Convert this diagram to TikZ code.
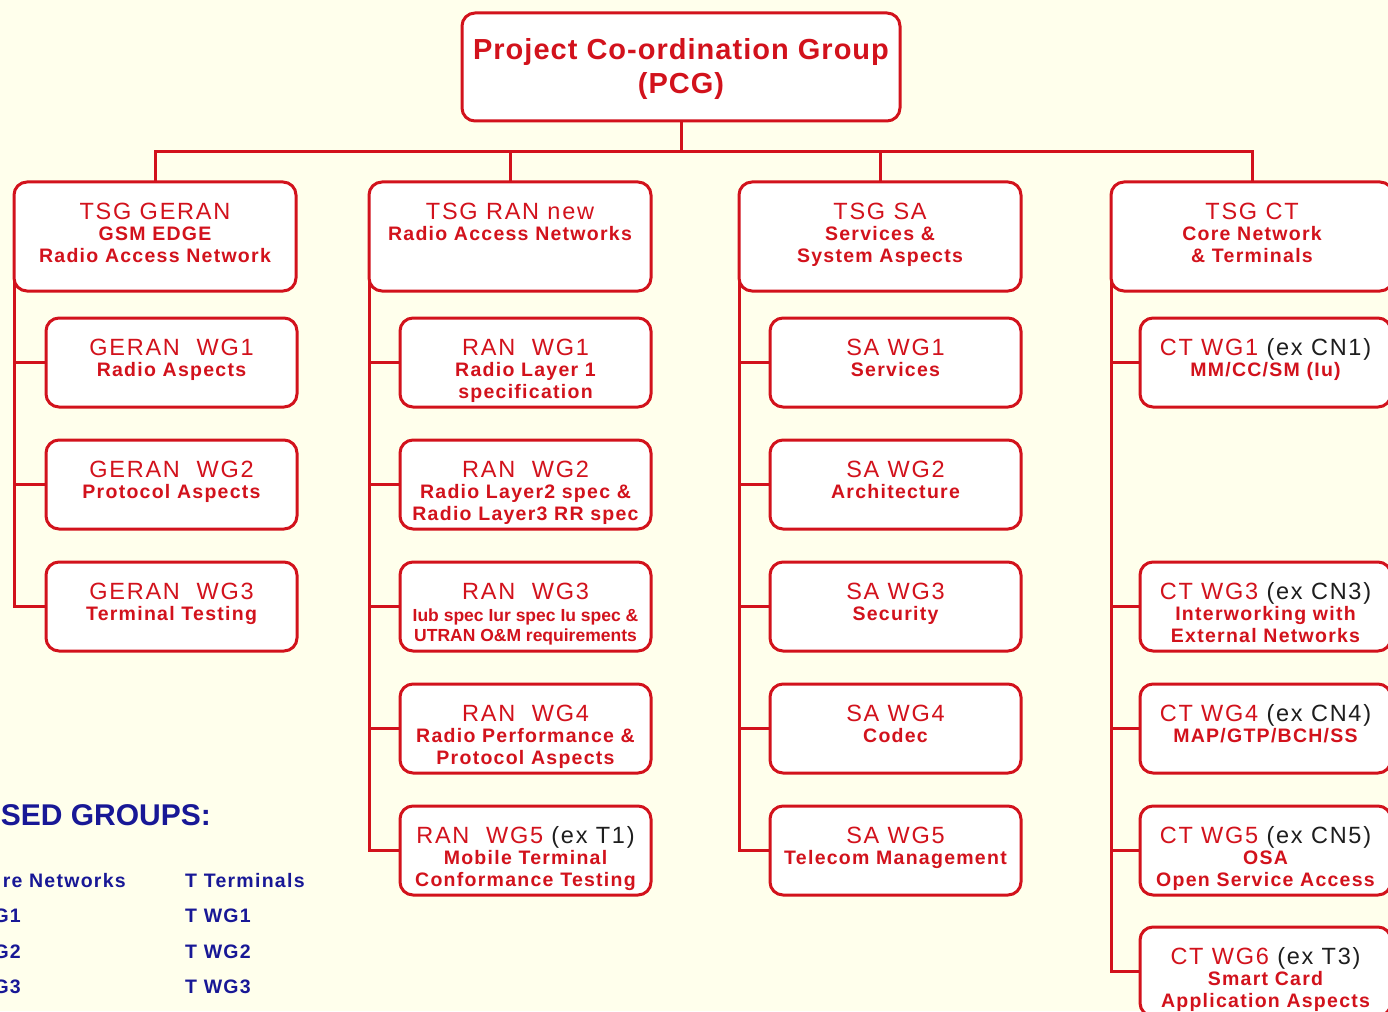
\documentclass[tikz,border=0pt]{standalone}
\usepackage{fontspec}
\setmainfont{Liberation Sans}
\newfontfamily\ttlfam[LetterSpace=7.5]{Liberation Sans}
\newfontfamily\subfam[LetterSpace=6.5]{Liberation Sans}
\newfontfamily\pcgfam[LetterSpace=3.5]{Liberation Sans}
\usetikzlibrary{backgrounds}

\definecolor{boxred}{RGB}{210,18,28}
\definecolor{bgyellow}{RGB}{255,255,236}
\definecolor{legblue}{RGB}{24,24,150}
\definecolor{exgray}{RGB}{30,30,30}

% text helpers
\newcommand\ttl[1]{{\ttlfam\fontsize{23.5}{26}\selectfont #1}}
\newcommand\sbt[1]{{\subfam\bfseries\fontsize{19.5}{22}\selectfont #1}}
\newcommand\exn[1]{{\color{exgray}\ttlfam\fontsize{23.5}{26}\selectfont #1}}
\newcommand\smallsub[1]{{\bfseries\fontsize{17.5}{20}\selectfont #1}}
% box content: height, width, lines (top aligned, first baseline 37pt below top)
\newcommand\boxlines[3]{\parbox[c][#1][t]{#2}{\centering\baselineskip=21.5pt\lineskiplimit=-100pt\lineskip=0pt\rule{0pt}{37pt}#3}}
\newcommand\tsgtext[1]{\boxlines{109pt}{282pt}{#1}}
\newcommand\wgtext[1]{\boxlines{89pt}{251pt}{#1}}

\begin{document}
\begin{tikzpicture}[x=1pt,y=-1pt,
  box/.style={draw=boxred, line width=3pt, rounded corners=13pt, fill=white,
              inner sep=0pt, outer sep=0pt, text=boxred},
  link/.style={draw=boxred, line width=3pt},
  legend/.style={inner sep=0pt, text=legblue,
                 font=\subfam\bfseries\fontsize{19.5}{22}\selectfont}]
\useasboundingbox (0,0) rectangle (1388,1011);

% top coordination group
\node[box, anchor=north west] (pcg) at (462,13)
  {\parbox[c][108pt][t]{438pt}{\centering\baselineskip=37pt\lineskiplimit=-100pt
   \pcgfam\bfseries\fontsize{29}{34}\selectfont
   \rule{0pt}{47pt}Project Co-ordination Group\\(PCG)}};

% technical specification groups
\node[box, anchor=north west] (geran) at (14,182)
  {\tsgtext{\ttl{TSG GERAN}\\\sbt{GSM EDGE}\\\sbt{Radio Access Network}}};
\node[box, anchor=north west] (ran) at (369,182)
  {\tsgtext{\ttl{TSG RAN new}\\\sbt{Radio Access Networks}}};
\node[box, anchor=north west] (sa) at (739,182)
  {\tsgtext{\ttl{TSG SA}\\\sbt{Services \&}\\\sbt{System Aspects}}};
\node[box, anchor=north west] (ct) at (1111,182)
  {\tsgtext{\ttl{TSG CT}\\\sbt{Core Network}\\\sbt{\& Terminals}}};

% GERAN working groups
\node[box, anchor=north west] (g1) at (46,318)
  {\wgtext{\ttl{GERAN\ \ WG1}\\\sbt{Radio Aspects}}};
\node[box, anchor=north west] (g2) at (46,440)
  {\wgtext{\ttl{GERAN\ \ WG2}\\\sbt{Protocol Aspects}}};
\node[box, anchor=north west] (g3) at (46,562)
  {\wgtext{\ttl{GERAN\ \ WG3}\\\sbt{Terminal Testing}}};

% RAN working groups
\node[box, anchor=north west] (r1) at (400,318)
  {\wgtext{\ttl{RAN\ \ WG1}\\\sbt{Radio Layer 1}\\\sbt{specification}}};
\node[box, anchor=north west] (r2) at (400,440)
  {\wgtext{\ttl{RAN\ \ WG2}\\\sbt{Radio Layer2 spec \&}\\\sbt{Radio Layer3 RR spec}}};
\node[box, anchor=north west] (r3) at (400,562)
  {\wgtext{\baselineskip=20pt\ttl{RAN\ \ WG3}\\[2pt]\smallsub{Iub spec Iur spec Iu spec \&}\\\smallsub{UTRAN O\&M requirements}}};
\node[box, anchor=north west] (r4) at (400,684)
  {\wgtext{\ttl{RAN\ \ WG4}\\\sbt{Radio Performance \&}\\\sbt{Protocol Aspects}}};
\node[box, anchor=north west] (r5) at (400,806)
  {\wgtext{\ttl{RAN\ \ WG5 }\exn{(ex T1)}\\\sbt{Mobile Terminal}\\\sbt{Conformance Testing}}};

% SA working groups
\node[box, anchor=north west] (s1) at (770,318)
  {\wgtext{\ttl{SA WG1}\\\sbt{Services}}};
\node[box, anchor=north west] (s2) at (770,440)
  {\wgtext{\ttl{SA WG2}\\\sbt{Architecture}}};
\node[box, anchor=north west] (s3) at (770,562)
  {\wgtext{\ttl{SA WG3}\\\sbt{Security}}};
\node[box, anchor=north west] (s4) at (770,684)
  {\wgtext{\ttl{SA WG4}\\\sbt{Codec}}};
\node[box, anchor=north west] (s5) at (770,806)
  {\wgtext{\ttl{SA WG5}\\\sbt{Telecom Management}}};

% CT working groups
\node[box, anchor=north west] (c1) at (1140,318)
  {\wgtext{\ttl{CT WG1 }\exn{(ex CN1)}\\\sbt{MM/CC/SM (Iu)}}};
\node[box, anchor=north west] (c3) at (1140,562)
  {\wgtext{\ttl{CT WG3 }\exn{(ex CN3)}\\\sbt{Interworking with}\\\sbt{External Networks}}};
\node[box, anchor=north west] (c4) at (1140,684)
  {\wgtext{\ttl{CT WG4 }\exn{(ex CN4)}\\\sbt{MAP/GTP/BCH/SS}}};
\node[box, anchor=north west] (c5) at (1140,806)
  {\wgtext{\ttl{CT WG5 }\exn{(ex CN5)}\\\sbt{OSA}\\\sbt{Open Service Access}}};
\node[box, anchor=north west] (c6) at (1140,927)
  {\wgtext{\ttl{CT WG6 }\exn{(ex T3)}\\\sbt{Smart Card}\\\sbt{Application Aspects}}};

% legend of closed groups
\node[legend, anchor=base east, font=\bfseries\fontsize{30}{34}\selectfont] (lgtitle) at (211,825) {SED GROUPS:};
\node[legend, anchor=base east] (lgcn) at (126,887) {re Networks};
\node[legend, anchor=base east] (lgcn1) at (21,922) {G1};
\node[legend, anchor=base east] (lgcn2) at (21,958) {G2};
\node[legend, anchor=base east] (lgcn3) at (21,993) {G3};
\node[legend, anchor=base west] (lgt) at (185,887) {T Terminals};
\node[legend, anchor=base west] (lgt1) at (185,922) {T WG1};
\node[legend, anchor=base west] (lgt2) at (185,958) {T WG2};
\node[legend, anchor=base west] (lgt3) at (185,993) {T WG3};

\begin{pgfonlayer}{background}
\fill[bgyellow] (0,0) rectangle (1388,1011);
% bus from the PCG to the TSGs
\coordinate (bus) at (681,152);
\draw[link] (pcg.south) -- (bus);
\draw[link] (geran.north) -- (geran.north |- bus) -- (ct.north |- bus) -- (ct.north);
\draw[link] (ran.north) -- (ran.north |- bus);
\draw[link] (sa.north) -- (sa.north |- bus);
% GERAN spine
\draw[link] (geran.west) -- (geran.west |- g3.west) -- (g3.west);
\foreach \w in {g1,g2} \draw[link] (\w.west) -- (\w.west -| geran.west);
% RAN spine
\draw[link] (ran.west) -- (ran.west |- r5.west) -- (r5.west);
\foreach \w in {r1,r2,r3,r4} \draw[link] (\w.west) -- (\w.west -| ran.west);
% SA spine
\draw[link] (sa.west) -- (sa.west |- s5.west) -- (s5.west);
\foreach \w in {s1,s2,s3,s4} \draw[link] (\w.west) -- (\w.west -| sa.west);
% CT spine
\draw[link] (ct.west) -- (ct.west |- c6.west) -- (c6.west);
\foreach \w in {c1,c3,c4,c5} \draw[link] (\w.west) -- (\w.west -| ct.west);
\end{pgfonlayer}
\end{tikzpicture}
\end{document}
